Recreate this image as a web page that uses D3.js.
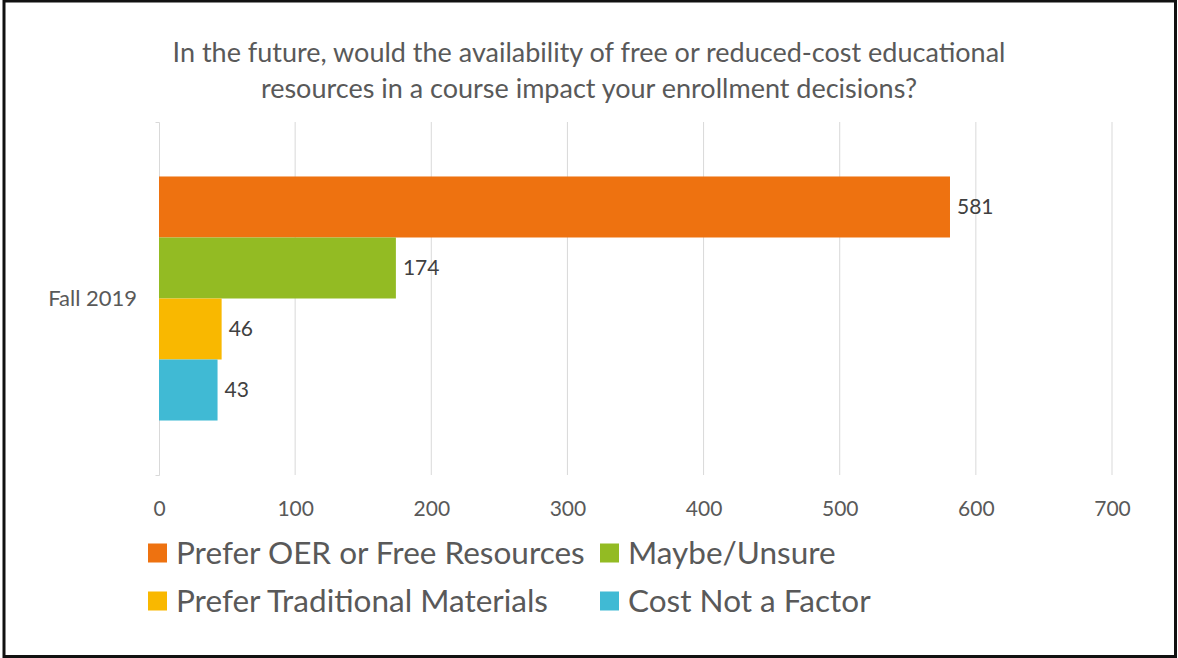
<!DOCTYPE html>
<html><head><meta charset="utf-8">
<script src="https://cdn.jsdelivr.net/npm/d3@7"></script>
<style>html,body{margin:0;padding:0;background:#fff;}svg{display:block;}</style>
</head><body>
<script>
const categories = ["Fall 2019"];
const seriesNames = ["Prefer OER or Free Resources","Maybe/Unsure","Prefer Traditional Materials","Cost Not a Factor"];
const seriesValues = [581, 174, 46, 43];
const seriesColors = ["#ee7210","#93bb23","#f9b800","#40bad4"];
const tickValues = [0,100,200,300,400,500,600,700];
const titleLines = ["In the future, would the availability of free or reduced-cost educational","resources in a course impact your enrollment decisions?"];

const W = 1178, H = 658;
const FONT = "Lato, 'Open Sans', sans-serif";
const svg = d3.select("body").append("svg").attr("width", W).attr("height", H);
svg.append("rect").attr("width", W).attr("height", H).attr("fill", "#fff");

// border
svg.append("rect").attr("x", 4).attr("y", 1).attr("width", 1171.5).attr("height", 655.5)
  .attr("fill", "none").attr("stroke", "#111").attr("stroke-width", 3);

// title
svg.append("g").selectAll("text").data(titleLines).join("text")
  .attr("x", W/2).attr("y", (d,i) => 62 + i*36)
  .attr("text-anchor", "middle").attr("font-family", FONT).attr("font-size", 27)
  .attr("fill", "#595959").text(d => d);

const x = d3.scaleLinear().domain([0, 700]).range([159, 1112]);
const y0 = d3.scaleBand().domain(categories).range([122, 475]).padding(0);
const y1 = d3.scaleBand().domain(seriesNames).range([0, y0.bandwidth()]).paddingInner(0).paddingOuter(0.893);

// gridlines
svg.append("g").selectAll("line").data(tickValues.slice(1)).join("line")
  .attr("x1", d => x(d)).attr("x2", d => x(d)).attr("y1", 122).attr("y2", 475)
  .attr("stroke", "#d9d9d9").attr("stroke-width", 1);

// y axis line with ticks
const yAxis = d3.axisLeft(y0).tickSize(0).tickFormat(() => "");
const gy = svg.append("g").attr("transform", "translate(159.5,0)").call(yAxis);
gy.select(".domain").attr("stroke", "#d9d9d9").attr("d", "M-4,122.5H0V475.5H-4");

// bars
const cat = svg.append("g").selectAll("g").data(categories).join("g")
  .attr("transform", d => `translate(0,${y0(d)})`);
const barData = seriesNames.map((n,i) => ({name:n, value:seriesValues[i], color:seriesColors[i]}));
cat.selectAll("rect").data(barData).join("rect")
  .attr("x", x(0)).attr("y", d => y1(d.name))
  .attr("width", d => x(d.value) - x(0)).attr("height", y1.bandwidth())
  .attr("fill", d => d.color);
cat.selectAll("text").data(barData).join("text")
  .attr("x", d => x(d.value) + 7).attr("y", d => y1(d.name) + y1.bandwidth()/2)
  .attr("dy", "0.35em").attr("font-family", FONT).attr("font-size", 21)
  .attr("fill", "#404040").text(d => d.value);

// category label
svg.append("g").selectAll("text").data(categories).join("text")
  .attr("x", 137).attr("y", d => y0(d) + y0.bandwidth()/2)
  .attr("dy", "0.35em").attr("text-anchor", "end")
  .attr("font-family", FONT).attr("font-size", 22).attr("fill", "#595959").text(d => d);

// x axis labels
const xAxis = d3.axisBottom(x).tickValues(tickValues).tickSize(0).tickPadding(0);
const gx = svg.append("g").attr("transform", "translate(0,509)").call(xAxis);
gx.select(".domain").remove();
gx.selectAll("text").attr("dy", "0.35em").attr("font-family", FONT).attr("font-size", 21).attr("fill", "#595959");

// legend
const legendPos = [[148,553],[600,553],[148,601],[600,601]];
const lg = svg.append("g").selectAll("g").data(barData).join("g")
  .attr("transform", (d,i) => `translate(${legendPos[i][0]},${legendPos[i][1]})`);
lg.append("rect").attr("x", 0).attr("y", -9.5).attr("width", 19).attr("height", 19).attr("fill", d => d.color);
lg.append("text").attr("x", 28).attr("y", 0).attr("dy", "0.35em")
  .attr("font-family", FONT).attr("font-size", 31.5).attr("fill", "#595959").text(d => d.name);
</script>
</body></html>
